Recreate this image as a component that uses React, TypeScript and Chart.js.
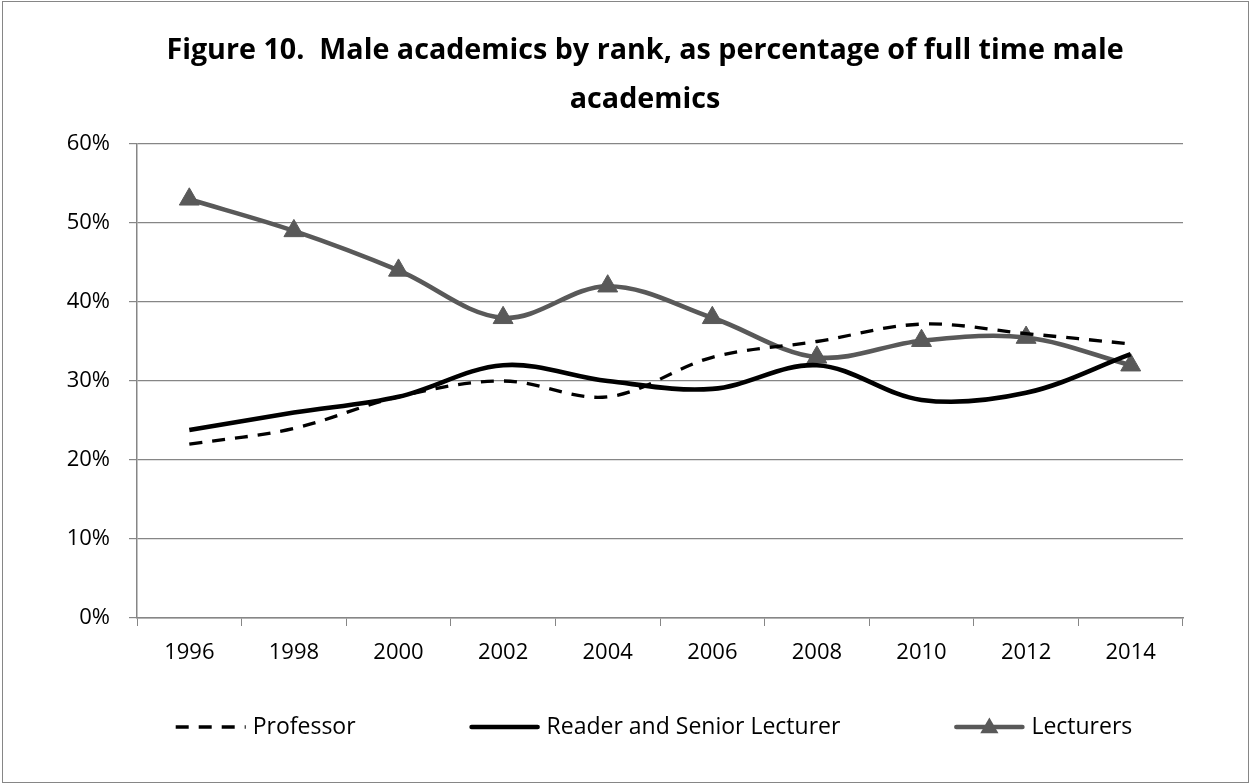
import React, { useEffect, useRef } from "react";
import { Chart, registerables } from "chart.js";

Chart.register(...registerables);

const years = ["1996", "1998", "2000", "2002", "2004", "2006", "2008", "2010", "2012", "2014"];
const professor = [22, 24, 28, 30, 28, 33, 35, 37.2, 36, 34.7];
const readerSenior = [23.8, 26, 28, 32, 30, 29, 32, 27.6, 28.5, 33.4];
const lecturers = [53, 49, 44, 38, 42, 38, 33, 35.1, 35.5, 32];
const titleLines = ["Figure 10.  Male academics by rank, as percentage of full time male", "academics"];
const seriesNames = ["Professor", "Reader and Senior Lecturer", "Lecturers"];

const GRID = "#868686";
const LECT = "#595959";
const FONT = '"Open Sans", sans-serif';

const frameTitleLegend = {
  id: "frameTitleLegend",
  afterDraw(chart: any) {
    const ctx = chart.ctx as CanvasRenderingContext2D;
    ctx.save();
    // outer frame
    ctx.strokeStyle = GRID;
    ctx.lineWidth = 1;
    ctx.strokeRect(2.5, 1.5, 1246, 781);

    // title
    ctx.fillStyle = "#000";
    ctx.font = `bold 28.7px ${FONT}`;
    ctx.textAlign = "center";
    ctx.textBaseline = "alphabetic";
    titleLines.forEach((t, i) => ctx.fillText(t, 645, 59 + i * 49));

    // legend
    ctx.font = `23px ${FONT}`;
    const lineW = 70;
    const gapT = 7;
    const gapI = 114;
    const ds = chart.data.datasets;
    const widths = ds.map((d: any) => lineW + gapT + ctx.measureText(d.label).width);
    const total = widths.reduce((a: number, b: number) => a + b, 0) + gapI * (ds.length - 1);
    let x = 654 - total / 2;
    const y = 727;
    ds.forEach((d: any, i: number) => {
      const dashed = d.borderDash && d.borderDash.length;
      ctx.save();
      ctx.strokeStyle = d.borderColor;
      ctx.lineWidth = d.borderWidth;
      ctx.lineCap = dashed ? "butt" : "round";
      ctx.setLineDash(d.borderDash || []);
      ctx.beginPath();
      ctx.moveTo(x + (dashed ? 0 : 2), y);
      ctx.lineTo(x + lineW - (dashed ? 0 : 2), y);
      ctx.stroke();
      ctx.setLineDash([]);
      if (d.pointStyle === "triangle") {
        const r = 10.5;
        const cx = x + lineW / 2;
        const cy = y + 1;
        ctx.fillStyle = d.pointBackgroundColor;
        ctx.beginPath();
        let rad = 0;
        ctx.moveTo(cx + Math.sin(rad) * r, cy - Math.cos(rad) * r);
        rad += (2 * Math.PI) / 3;
        ctx.lineTo(cx + Math.sin(rad) * r, cy - Math.cos(rad) * r);
        rad += (2 * Math.PI) / 3;
        ctx.lineTo(cx + Math.sin(rad) * r, cy - Math.cos(rad) * r);
        ctx.closePath();
        ctx.fill();
      }
      ctx.restore();
      ctx.fillStyle = "#000";
      ctx.textAlign = "left";
      ctx.textBaseline = "middle";
      ctx.fillText(d.label, x + lineW + gapT, y);
      x += widths[i] + gapI;
    });
    ctx.restore();
  },
};

export default function App() {
  const ref = useRef<HTMLCanvasElement | null>(null);

  useEffect(() => {
    if (!ref.current) return;
    Chart.defaults.font.family = FONT;
    const chart = new Chart(ref.current, {
      type: "line",
      data: {
        labels: years,
        datasets: [
          {
            label: seriesNames[0],
            data: professor,
            borderColor: "#000",
            backgroundColor: "#000",
            borderWidth: 3.3,
            borderDash: [13, 10],
            pointRadius: 0,
            tension: 0.35,
          },
          {
            label: seriesNames[1],
            data: readerSenior,
            borderColor: "#000",
            backgroundColor: "#000",
            borderWidth: 4.6,
            pointRadius: 0,
            tension: 0.35,
          },
          {
            label: seriesNames[2],
            data: lecturers,
            borderColor: LECT,
            backgroundColor: LECT,
            borderWidth: 4.6,
            pointStyle: "triangle",
            pointRadius: 11.5,
            pointBackgroundColor: LECT,
            pointBorderColor: LECT,
            pointBorderWidth: 1,
            tension: 0.35,
          },
        ] as any,
      },
      options: {
        animation: false,
        responsive: false,
        devicePixelRatio: 1,
        layout: { padding: { left: 0, right: 67, top: 144, bottom: 106 } },
        plugins: {
          legend: { display: false },
          tooltip: { enabled: false },
          title: { display: false },
        },
        scales: {
          x: {
            type: "category",
            offset: true,
            grid: { offset: true, drawOnChartArea: false, drawTicks: true, tickLength: 8, color: GRID, lineWidth: 1 },
            border: { color: GRID, width: 1.5 },
            ticks: { color: "#000", font: { size: 22, family: FONT }, padding: 14, maxRotation: 0 },
            afterFit: (s: any) => {
              s.height = 60;
            },
          },
          y: {
            min: 0,
            max: 60,
            grid: { color: GRID, lineWidth: 1.2, tickLength: 8 },
            border: { color: GRID, width: 1.5 },
            ticks: {
              stepSize: 10,
              color: "#000",
              font: { size: 22, family: FONT },
              padding: 19,
              callback: (v: any) => `${v}%`,
            },
            afterFit: (s: any) => {
              s.width = 137;
            },
          },
        },
      },
      plugins: [frameTitleLegend],
    } as any);
    return () => chart.destroy();
  }, []);

  return (
    <div style={{ position: "fixed", left: 0, top: 0, width: 1250, height: 784, background: "#fff" }}>
      <canvas ref={ref} width={1250} height={784} style={{ display: "block" }} />
    </div>
  );
}
